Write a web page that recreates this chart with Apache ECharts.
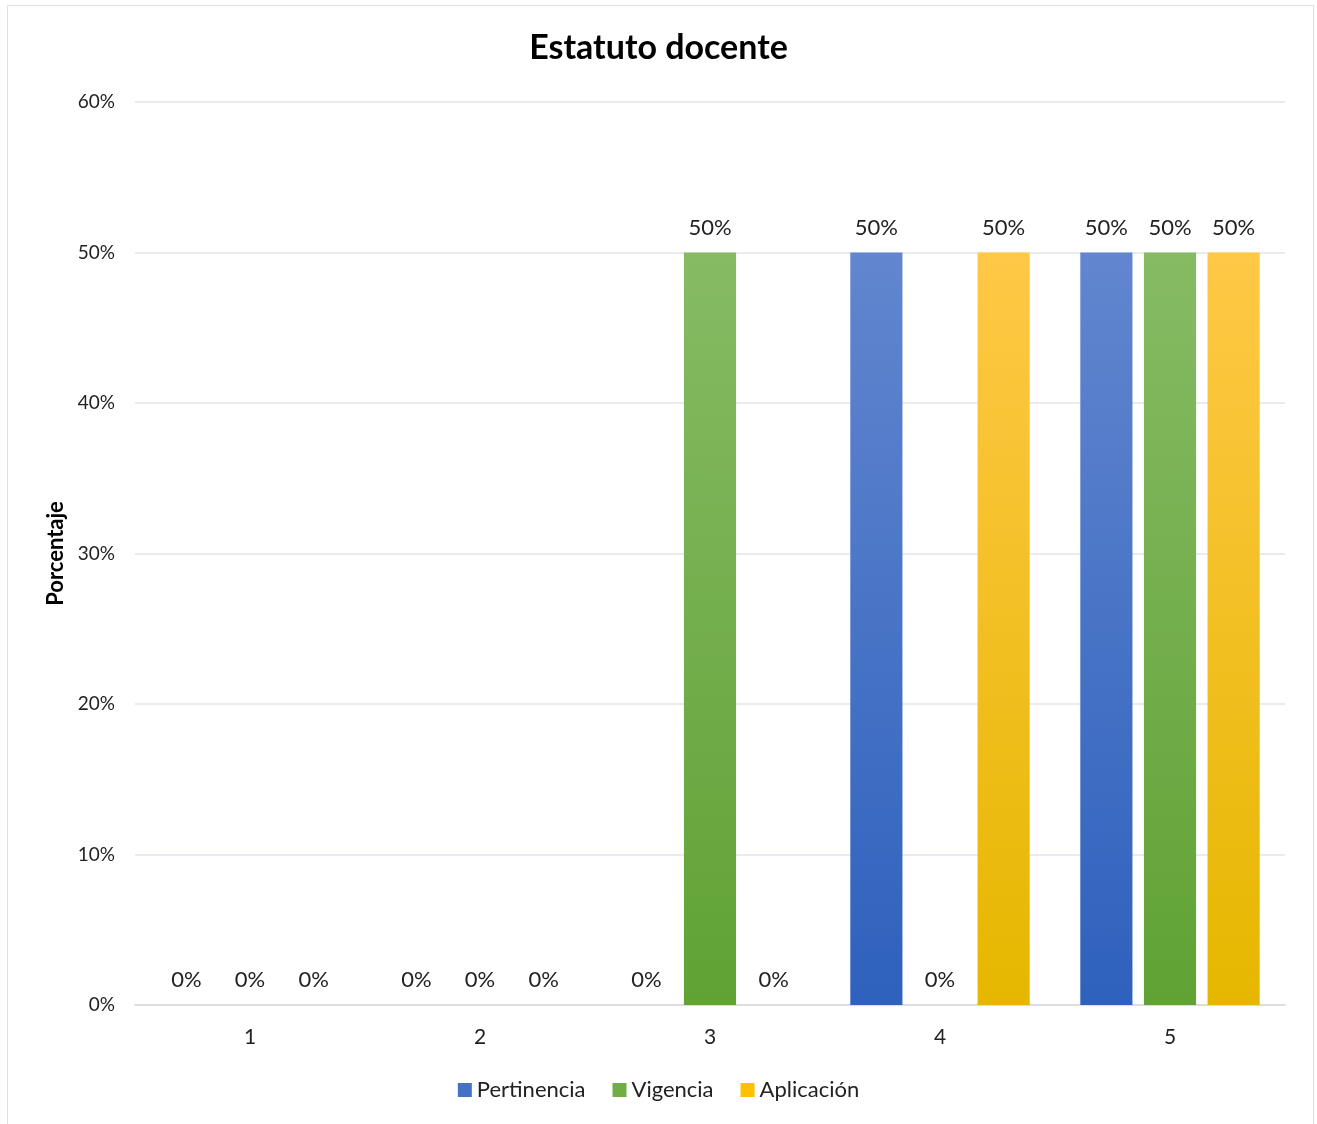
<!DOCTYPE html>
<html>
<head>
<meta charset="utf-8">
<script src="https://cdn.jsdelivr.net/npm/echarts@6/dist/echarts.min.js"></script>
<style>
html,body{margin:0;padding:0;background:#fff;}
#frame{position:absolute;left:7px;top:5px;width:1307px;height:1125px;border:1.5px solid #dde1e8;box-sizing:border-box;}
#chart{position:absolute;left:0;top:0;width:1317px;height:1124px;}
</style>
</head>
<body>
<div id="frame"></div>
<div id="chart"></div>
<script>
var categories = ['1', '2', '3', '4', '5'];
var pertinencia = [0, 0, 0, 50, 50];
var vigencia = [0, 0, 50, 0, 50];
var aplicacion = [0, 0, 0, 50, 50];
var seriesNames = ['Pertinencia', 'Vigencia', 'Aplicación'];
var yTicks = [0, 10, 20, 30, 40, 50, 60];

var FONT = 'Lato, "Open Sans", sans-serif';
function grad(top, bottom) {
  return new echarts.graphic.LinearGradient(0, 0, 0, 1, [
    {offset: 0, color: top}, {offset: 1, color: bottom}
  ]);
}
var colors = [
  grad('#6286cf', '#2e61bd'),
  grad('#86bb64', '#60a234'),
  grad('#ffc846', '#e6b700')
];
var legendColors = ['#4472c4', '#70ad47', '#ffc000'];
var dataSets = [pertinencia, vigencia, aplicacion];

var chart = echarts.init(document.getElementById('chart'));
chart.setOption({
  animation: false,
  backgroundColor: 'transparent',
  title: {
    text: 'Estatuto docente',
    left: 'center',
    top: 26,
    textStyle: {fontFamily: FONT, fontSize: 34, fontWeight: 'bold', color: '#000'}
  },
  legend: {
    bottom: 18,
    left: 'center',
    itemWidth: 14,
    itemHeight: 14,
    itemGap: 27,
    icon: 'rect',
    textStyle: {fontFamily: FONT, fontSize: 22, color: '#222'},
    data: seriesNames.map(function (n, i) {
      return {name: n, itemStyle: {color: legendColors[i]}};
    })
  },
  grid: {left: 135, right: 32, top: 102, bottom: 119, containLabel: false},
  xAxis: {
    type: 'category',
    data: categories,
    axisLine: {show: true, lineStyle: {color: '#d9d9d9', width: 1.5}},
    axisTick: {show: false},
    axisLabel: {fontFamily: FONT, fontSize: 21, color: '#222', margin: 22}
  },
  yAxis: {
    type: 'value',
    min: 0,
    max: 60,
    interval: 10,
    name: 'Porcentaje',
    nameLocation: 'middle',
    nameGap: 67,
    nameRotate: 90,
    nameTextStyle: {fontFamily: FONT, fontSize: 22, fontWeight: 'bold', color: '#000'},
    axisLine: {show: false},
    axisTick: {show: false},
    axisLabel: {
      fontFamily: FONT, fontSize: 19, color: '#222', margin: 20,
      formatter: function (v) { return yTicks.indexOf(v) >= 0 ? v + '%' : ''; }
    },
    splitLine: {lineStyle: {color: '#e3e5e8', width: 1.5}}
  },
  series: dataSets.map(function (d, i) {
    return {
      name: seriesNames[i],
      type: 'bar',
      data: d,
      barGap: '22%',
      barCategoryGap: '22%',
      itemStyle: {color: colors[i]},
      label: {
        show: true,
        position: 'top',
        distance: 14,
        fontFamily: FONT,
        fontSize: 22,
        color: '#222',
        formatter: function (p) { return p.value + '%'; }
      }
    };
  })
});
</script>
</body>
</html>
